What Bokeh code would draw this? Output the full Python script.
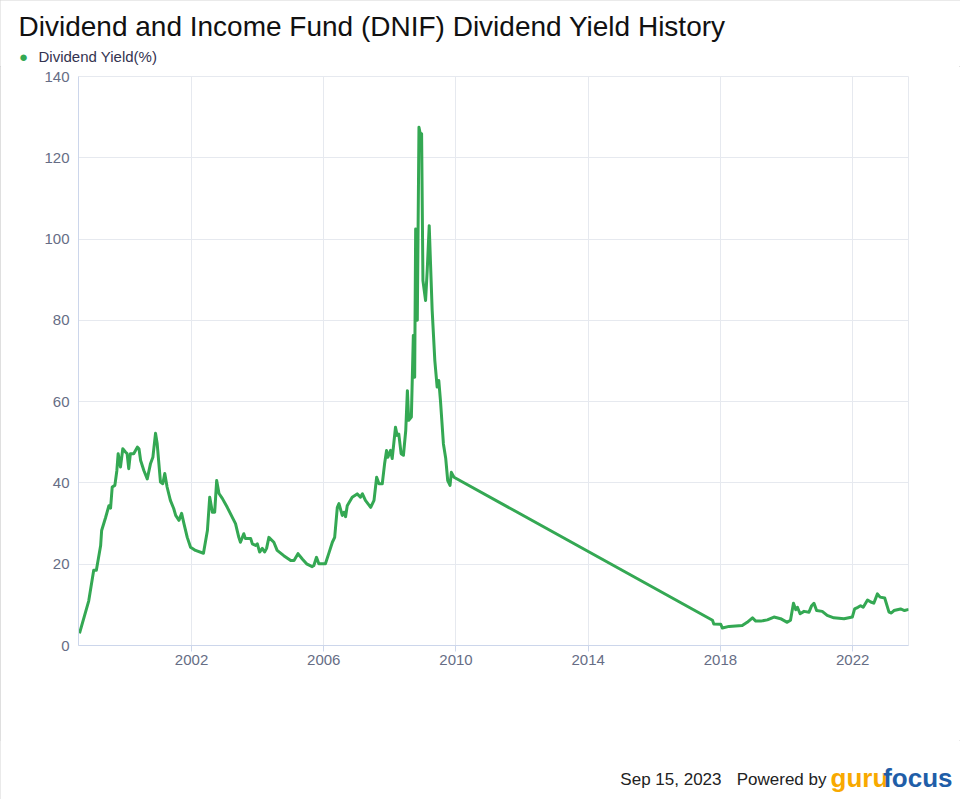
from bokeh.plotting import figure
from bokeh.layouts import column
from bokeh.models import Range1d, FixedTicker, Label
from bokeh.embed import file_html
from bokeh.resources import INLINE

years = [
    1998.61, 1998.89, 1999.04, 1999.12, 1999.25, 1999.28, 1999.40, 1999.50, 1999.55, 1999.60,
    1999.68, 1999.74, 1999.78, 1999.85, 1999.92, 2000.00, 2000.05, 2000.10, 2000.15, 2000.25,
    2000.36, 2000.41, 2000.46, 2000.56, 2000.66, 2000.76, 2000.83, 2000.91, 2000.96, 2001.06,
    2001.13, 2001.19, 2001.26, 2001.36, 2001.46, 2001.52, 2001.62, 2001.70, 2001.77, 2001.87,
    2001.97, 2002.12, 2002.36, 2002.48, 2002.55, 2002.63, 2002.70, 2002.76, 2002.83, 2002.93,
    2003.08, 2003.23, 2003.33, 2003.43, 2003.48, 2003.58, 2003.63, 2003.79, 2003.84, 2003.94,
    2003.99, 2004.06, 2004.14, 2004.21, 2004.27, 2004.34, 2004.49, 2004.59, 2004.79, 2005.00,
    2005.10, 2005.22, 2005.35, 2005.48, 2005.65, 2005.70, 2005.78, 2005.85, 2006.05, 2006.15,
    2006.26, 2006.33, 2006.41, 2006.46, 2006.56, 2006.61, 2006.66, 2006.71, 2006.86, 2007.01,
    2007.11, 2007.17, 2007.26, 2007.42, 2007.52, 2007.60, 2007.67, 2007.77, 2007.84, 2007.90,
    2007.94, 2008.02, 2008.07, 2008.17, 2008.22, 2008.27, 2008.34, 2008.41, 2008.48, 2008.53,
    2008.57, 2008.65, 2008.71, 2008.75, 2008.78, 2008.83, 2008.88, 2008.93, 2008.96, 2009.00,
    2009.08, 2009.13, 2009.19, 2009.23, 2009.28, 2009.36, 2009.43, 2009.48, 2009.53, 2009.62,
    2009.69, 2009.75, 2009.82, 2009.86, 2009.94,
    2017.76, 2017.80, 2018.01, 2018.06, 2018.26, 2018.66, 2018.81, 2018.97, 2019.07, 2019.22,
    2019.42, 2019.62, 2019.82, 2020.02, 2020.12, 2020.21, 2020.28, 2020.33, 2020.41, 2020.53,
    2020.68, 2020.76, 2020.83, 2020.91, 2021.08, 2021.23, 2021.43, 2021.74, 2021.99, 2022.06,
    2022.16, 2022.24, 2022.32, 2022.45, 2022.55, 2022.64, 2022.75, 2022.83, 2022.97, 2023.10,
    2023.17, 2023.25, 2023.45, 2023.57, 2023.70,
]
yield_pct = [
    3.0, 11.0, 18.5, 18.5, 24.6, 28.3, 31.5, 34.4, 33.8, 39.0,
    39.4, 43.0, 47.2, 43.9, 48.4, 47.6, 47.2, 43.5, 47.2, 47.2,
    48.8, 48.4, 45.5, 43.0, 41.0, 44.8, 46.3, 52.2, 49.7, 40.2,
    39.8, 42.3, 39.0, 35.7, 33.7, 32.0, 30.8, 32.5, 30.0, 26.6,
    24.2, 23.4, 22.7, 28.3, 36.5, 32.8, 32.8, 40.6, 37.4, 36.2,
    34.0, 31.6, 30.0, 26.6, 25.4, 27.5, 26.3, 26.3, 25.0, 24.6,
    25.0, 23.0, 23.9, 23.0, 23.9, 26.6, 25.4, 23.4, 22.1, 20.9,
    20.9, 22.6, 21.3, 20.1, 19.4, 19.7, 21.7, 20.1, 20.1, 22.6,
    25.4, 26.6, 34.0, 34.9, 32.0, 32.8, 31.7, 34.4, 36.5, 37.3,
    36.5, 37.3, 35.7, 34.0, 35.7, 41.4, 39.8, 39.8, 44.7, 48.0,
    46.3, 48.0, 46.0, 53.7, 51.7, 52.0, 47.2, 46.8, 52.9, 62.7,
    55.4, 56.2, 76.3, 66.0, 102.5, 80.0, 127.5, 125.5, 125.9, 89.8,
    84.9, 92.3, 103.3, 93.9, 82.4, 70.1, 63.6, 65.2, 60.3, 49.6,
    46.0, 40.6, 39.4, 42.6, 41.4,
    6.2, 5.3, 5.2, 4.3, 4.7, 4.9, 5.7, 6.8, 6.0, 6.0,
    6.3, 7.0, 6.6, 5.7, 6.2, 10.4, 8.8, 9.4, 7.8, 8.4,
    8.2, 9.8, 10.4, 8.6, 8.4, 7.4, 6.8, 6.6, 7.0, 9.0,
    9.4, 9.8, 9.4, 11.2, 10.7, 10.4, 12.7, 11.9, 11.7, 8.2,
    8.0, 8.6, 9.0, 8.6, 8.9,
]
x_ticks = [2002, 2006, 2010, 2014, 2018, 2022]
y_ticks = [0, 20, 40, 60, 80, 100, 120, 140]

title_text = "Dividend and Income Fund (DNIF) Dividend Yield History"
series_name = "Dividend Yield(%)"
date_text = "Sep 15, 2023"
powered_text = "Powered by"

GREEN = "#34a853"
GRID = "#e6e9ef"
AXIS = "#ccd6eb"
LABEL = "#666d85"
FONT = "Liberation Sans"
W = 960


def text_panel(height):
    f = figure(width=W, height=height, output_backend="svg", toolbar_location=None,
               x_axis_type=None, y_axis_type=None, x_range=Range1d(0, 1), y_range=Range1d(0, 1),
               min_border=0, min_border_left=0, min_border_right=0,
               min_border_top=0, min_border_bottom=0)
    f.outline_line_color = None
    f.grid.visible = False
    f.background_fill_color = "white"
    f.border_fill_color = "white"
    if hasattr(f, "frame_align"):
        f.frame_align = False
    return f


# ---- header: title and legend (screen units, y measured up from the panel bottom)
head = text_panel(66)
head.add_layout(Label(x=18, y=40, x_units="screen", y_units="screen", text=title_text,
                      text_font=FONT, text_font_size="28px", text_color="#111111",
                      text_baseline="middle", text_align="left"))
head.add_layout(Label(x=23, y=10, x_units="screen", y_units="screen", text="\u25cf",
                      text_font=FONT, text_font_size="15px", text_color=GREEN,
                      text_baseline="middle", text_align="center"))
head.add_layout(Label(x=38, y=10, x_units="screen", y_units="screen", text=series_name,
                      text_font=FONT, text_font_size="15px", text_color="#333350",
                      text_baseline="middle", text_align="left"))

# ---- main chart
p = figure(
    width=W, height=674,
    output_backend="svg", toolbar_location=None,
    x_range=Range1d(1998.58, 2023.69), y_range=Range1d(0, 140),
    min_border_left=78, min_border_right=52, min_border_top=10, min_border_bottom=95,
)
if hasattr(p, "frame_align"):
    p.frame_align = False
p.background_fill_color = "white"
p.border_fill_color = "white"
p.outline_line_color = GRID

p.line(years, yield_pct, line_color=GREEN, line_width=3, line_join="round")

p.xaxis.ticker = FixedTicker(ticks=x_ticks)
p.yaxis.ticker = FixedTicker(ticks=y_ticks)
p.xaxis.formatter.use_scientific = False
for ax in (p.xaxis[0], p.yaxis[0]):
    ax.axis_line_color = AXIS
    ax.major_label_text_color = LABEL
    ax.major_label_text_font = FONT
    ax.major_label_text_font_size = "15px"
    ax.minor_tick_line_color = None
p.xaxis.major_tick_line_color = AXIS
p.xaxis.major_tick_in = 0
p.xaxis.major_tick_out = 6
p.xaxis.major_label_standoff = 3
p.yaxis.major_tick_line_color = None
p.yaxis.major_tick_in = 0
p.yaxis.major_tick_out = 0
p.yaxis.major_label_standoff = 9

p.xgrid.grid_line_color = GRID
p.ygrid.grid_line_color = GRID

# ---- footer
foot = text_panel(59)
foot.add_layout(Label(x=721, y=20, x_units="screen", y_units="screen", text=date_text,
                      text_font=FONT, text_font_size="17px", text_color="#222222",
                      text_baseline="middle", text_align="right"))
foot.add_layout(Label(x=826, y=20, x_units="screen", y_units="screen", text=powered_text,
                      text_font=FONT, text_font_size="17px", text_color="#222222",
                      text_baseline="middle", text_align="right"))
foot.add_layout(Label(x=830, y=22, x_units="screen", y_units="screen", text="guru",
                      text_font=FONT, text_font_style="bold",
                      text_font_size="26px", text_color="#f8a900",
                      text_baseline="middle", text_align="left"))
foot.add_layout(Label(x=952, y=22, x_units="screen", y_units="screen", text="focus",
                      text_font=FONT, text_font_style="bold",
                      text_font_size="26px", text_color="#1f5ea8",
                      text_baseline="middle", text_align="right"))

layout = column(head, p, foot, spacing=0,
                styles={"outline": "1px solid #d4d4d4", "outline-offset": "-1px"})
open("out.html", "w").write(file_html(layout, INLINE))
